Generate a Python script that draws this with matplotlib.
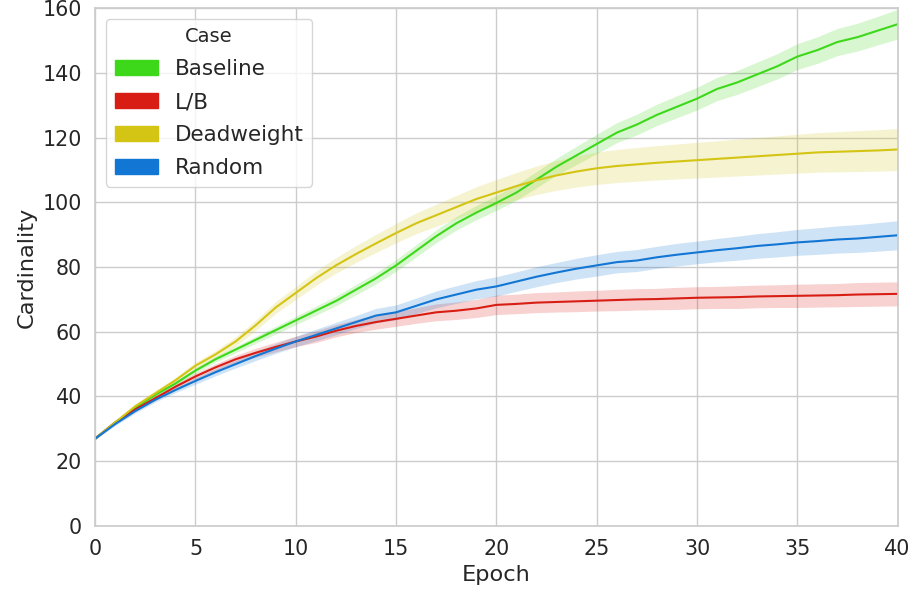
import numpy as np
import matplotlib
matplotlib.use("Agg")
import matplotlib.pyplot as plt
import seaborn as sns
from matplotlib.patches import Patch

# datos
epochs = list(range(41))

baseline = [27, 32, 36.5, 40.5, 44, 48, 51.5, 54.5, 57.5, 60.5, 63.5, 66.5, 69.5, 73, 76.5, 80.5,
            85, 89.5, 93.5, 96.8, 99.8, 103, 107, 111, 114.5, 118, 121.5, 124, 127, 129.5,
            132, 135, 137, 139.5, 142, 145, 147, 149.5, 151, 153, 155]
baseline_err = [0.3, 0.4, 0.5, 0.6, 0.7, 0.8, 0.9, 1.0, 1.1, 1.2, 1.3, 1.4, 1.5, 1.6, 1.7, 1.8,
                1.9, 2.0, 2.1, 2.2, 2.3, 2.4, 2.5, 2.6, 2.8, 3.0, 3.1, 3.2, 3.3, 3.4,
                3.5, 3.6, 3.7, 3.8, 3.9, 4.0, 4.1, 4.2, 4.3, 4.4, 4.6]

lb = [27, 32, 36, 39.5, 43, 46.2, 49, 51.5, 53.5, 55.3, 57, 58.5, 60.3, 61.8, 63, 64,
      65, 66, 66.5, 67.2, 68.3, 68.6, 69, 69.2, 69.4, 69.6, 69.8, 70, 70.1, 70.3,
      70.5, 70.6, 70.7, 70.9, 71, 71.1, 71.2, 71.3, 71.5, 71.6, 71.7]
lb_err = [0.3, 0.5, 0.6, 0.7, 0.8, 1.0, 1.1, 1.2, 1.4, 1.5, 1.6, 1.8, 1.9, 2.0, 2.2, 2.3,
          2.4, 2.6, 2.7, 2.8, 3.0, 3.0, 3.1, 3.1, 3.2, 3.2, 3.3, 3.3, 3.3, 3.4,
          3.4, 3.4, 3.5, 3.5, 3.5, 3.6, 3.6, 3.6, 3.7, 3.7, 3.7]

deadweight = [27, 32, 37, 41, 45, 49.5, 53, 57, 62, 67.5, 72, 76.5, 80.5, 84, 87.3, 90.5,
              93.5, 96, 98.5, 101, 103, 105, 106.8, 108.3, 109.5, 110.5, 111.2, 111.7, 112.2, 112.6,
              113, 113.4, 113.8, 114.2, 114.6, 115, 115.4, 115.6, 115.8, 116, 116.3]
deadweight_err = [0.3, 0.5, 0.6, 0.8, 0.9, 1.1, 1.2, 1.4, 1.6, 1.8, 2.0, 2.2, 2.4, 2.6, 2.8, 3.0,
                  3.2, 3.4, 3.6, 3.8, 4.0, 4.2, 4.4, 4.6, 4.8, 5.0, 5.1, 5.2, 5.3, 5.4,
                  5.5, 5.6, 5.7, 5.8, 5.9, 6.0, 6.1, 6.2, 6.3, 6.4, 6.5]

random_ = [27, 31.5, 35.5, 39, 42, 44.8, 47.5, 50, 52.5, 54.8, 57, 59, 61, 63, 65, 66,
           68, 70, 71.5, 73, 74, 75.5, 77, 78.3, 79.5, 80.5, 81.5, 82, 83, 83.8,
           84.5, 85.2, 85.8, 86.5, 87, 87.6, 88, 88.5, 88.8, 89.3, 89.8]
random_err = [0.3, 0.5, 0.6, 0.7, 0.8, 1.0, 1.1, 1.2, 1.4, 1.5, 1.6, 1.8, 1.9, 2.0, 2.2, 2.3,
              2.4, 2.6, 2.7, 2.8, 3.0, 3.0, 3.1, 3.1, 3.2, 3.3, 3.3, 3.4, 3.4, 3.5,
              3.5, 3.6, 3.7, 3.8, 3.9, 4.0, 4.1, 4.2, 4.3, 4.4, 4.5]

casos = ["Baseline", "L/B", "Deadweight", "Random"]
colores = ["#3dd81a", "#d81e14", "#d4c414", "#1276d4"]
medias = [baseline, lb, deadweight, random_]
errores = [baseline_err, lb_err, deadweight_err, random_err]

sns.set_theme(style="whitegrid", font_scale=1.35)
plt.rcParams["font.family"] = ["DejaVu Sans"]

fig = plt.figure(figsize=(9.15, 5.94), dpi=100)
ax = fig.add_axes([0.104, 0.1145, 0.877, 0.872])

x = np.array(epochs)
for caso, color, m, e in zip(casos, colores, medias, errores):
    m = np.array(m)
    e = np.array(e)
    ax.fill_between(x, m - e, m + e, color=color, alpha=0.2, linewidth=0)
    ax.plot(x, m, color=color, linewidth=1.5)

ax.set_xlim(0, 40)
ax.set_ylim(0, 160)
ax.set_xlabel("Epoch")
ax.set_ylabel("Cardinality")

handles = [Patch(facecolor=c, edgecolor=c, label=k) for k, c in zip(casos, colores)]
ax.legend(handles=handles, title="Case", loc="upper left", fontsize=15.5, title_fontsize=14,
          labelspacing=0.6)

fig.savefig("out.png", dpi=100)
